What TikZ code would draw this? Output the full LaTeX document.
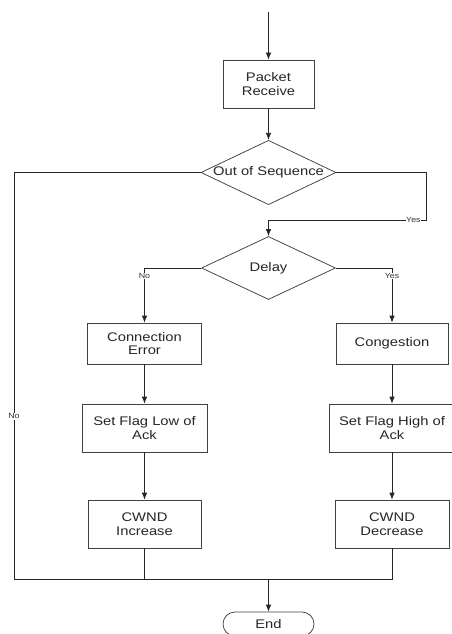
\documentclass[tikz,border=0pt]{standalone}
\usepackage{fontspec}
\newfontfamily\chartfont{Liberation Sans}[FakeStretch=1.18]
\usetikzlibrary{arrows.meta}
\usetikzlibrary{shapes.geometric}

\tikzset{
  box/.style={rectangle, draw=black!75, align=center, inner sep=0pt,
    font=\chartfont\fontsize{12.5}{13.5}\selectfont},
  decision/.style={diamond, draw=black!75, aspect=2.1, inner sep=0pt,
    minimum width=134pt, minimum height=63pt,
    font=\chartfont\fontsize{12.5}{13.5}\selectfont},
  terminal/.style={rectangle, rounded corners=12pt, draw=black!75,
    minimum width=91pt, minimum height=24pt,
    font=\chartfont\fontsize{12.5}{13.5}\selectfont},
  lbl/.style={fill=white, inner sep=0.5pt, text=black!80,
    font=\chartfont\fontsize{7.5}{8}\selectfont},
  >={Latex[length=7pt,width=5.5pt]}
}

\begin{document}
\begin{tikzpicture}[x=1pt, y=-1pt, black!85, line width=0.75pt]
  \useasboundingbox (0,0) rectangle (452,634);

  \node (pr) [box, minimum width=91pt, minimum height=48pt] at (268.5,84) {Packet\\Receive};
  \node (oos) [decision] at (268.5,172.5) {Out of Sequence};
  \node (delay) [decision] at (268.5,268) {Delay};
  \node (ce) [box, minimum width=114pt, minimum height=41pt] at (144.5,343.5) {Connection\\Error};
  \node (cg) [box, minimum width=112pt, minimum height=41pt] at (392,343.5) {Congestion};
  \node (sfl) [box, minimum width=125pt, minimum height=48pt] at (144.5,428) {Set Flag Low of\\Ack};
  \node (sfh) [box, minimum width=126pt, minimum height=48pt] at (392,428) {Set Flag High of\\Ack};
  \node (cwi) [box, minimum width=113pt, minimum height=48pt] at (144.5,524) {CWND\\Increase};
  \node (cwd) [box, minimum width=114pt, minimum height=48pt] at (392,524) {CWND\\Decrease};
  \node (end) [terminal] at (268.5,624) {End};

  \coordinate (start) at (268.5,12);
  \coordinate (yr) at (426,220);
  \coordinate (bl) at (14,579);
  \coordinate (br) at (392,579);
  \coordinate (mid) at (268.5,579);

  \draw [->] (start) -- (pr);
  \draw [->] (pr) -- (oos);
  \draw [->] (oos.east) -| (yr) -- node[lbl, pos=0.08] {Yes} (delay.north |- yr) -- (delay.north);
  \draw [->] (delay.west) -| node[lbl, pos=0.57] {No} (ce.north);
  \draw [->] (delay.east) -| node[lbl, pos=0.57] {Yes} (cg.north);
  \draw [->] (ce) -- (sfl);
  \draw [->] (sfl) -- (cwi);
  \draw [->] (cg) -- (sfh);
  \draw [->] (sfh) -- (cwd);
  \draw (oos.west) -| node[lbl, pos=0.8] {No} (bl) -- (br) -- (cwd.south);
  \draw (cwi.south) -- (cwi |- bl);
  \draw [->] (mid) -- (end);
\end{tikzpicture}
\end{document}
